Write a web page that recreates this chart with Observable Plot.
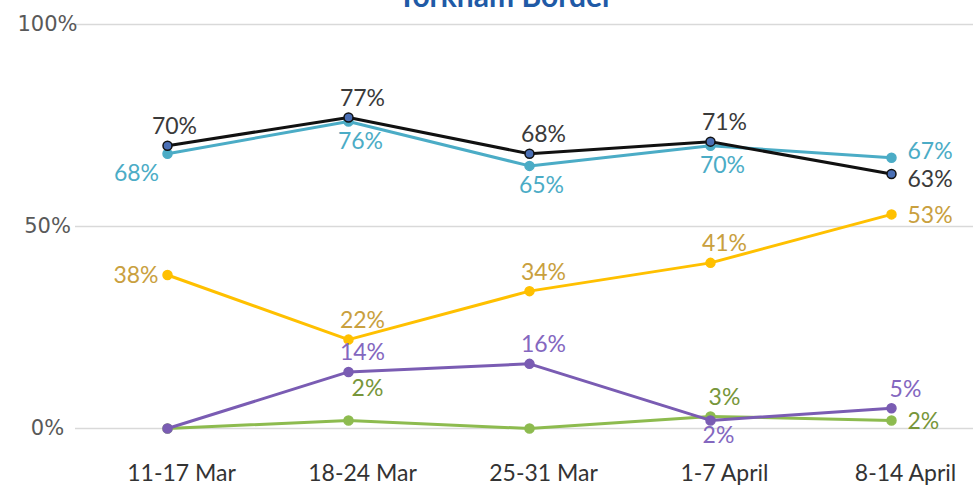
<!DOCTYPE html>
<html><head><meta charset="utf-8">
<script src="https://cdn.jsdelivr.net/npm/d3@7"></script>
<script src="https://cdn.jsdelivr.net/npm/@observablehq/plot@0.6"></script>
<style>
html,body{margin:0;padding:0;background:#fff;overflow:hidden;width:973px;height:486px}
#wrap{position:relative;width:973px;height:486px}
#title{position:absolute;top:-23px;left:398px;font:bold 30px Lato, sans-serif;color:#1f5aa6;white-space:nowrap;z-index:2}
</style></head>
<body><div id="wrap"><div id="title">Torkham Border</div></div>
<script>
const categories = ["11-17 Mar", "18-24 Mar", "25-31 Mar", "1-7 April", "8-14 April"];
const seriesNames = ["black", "blue", "orange", "purple", "green"];
const blackValues  = [70, 77, 68, 71, 63];
const blueValues   = [68, 76, 65, 70, 67];
const orangeValues = [38, 22, 34, 41, 53];
const purpleValues = [0, 14, 16, 2, 5];
const greenValues  = [0, 2, 0, 3, 2];
const yTicks = [0, 50, 100];
// label placement per point ("" = no label)
const blackLabelPos  = ["topNear", "top", "top", "top", "rightDown"];
const blueLabelPos   = ["bottomLeft", "bottom", "bottom", "bottom", "rightUp"];
const orangeLabelPos = ["left", "top", "top", "top", "right"];
const purpleLabelPos = ["", "top", "top", "bottomNear", "top"];
const greenLabelPos  = ["", "topFar", "", "top", "right"];

const lineColors  = {black:"#111111", blue:"#4bacc6", orange:"#ffc000", purple:"#7a5cb3", green:"#8dbb4f"};
const labelColors = {black:"#3a3a3a", blue:"#4bacc6", orange:"#c9a03e", purple:"#8467bf", green:"#77963a"};
const dotFill     = {black:"#4a6fb5", blue:"#4bacc6", orange:"#ffc000", purple:"#7a5cb3", green:"#8dbb4f"};
const dotStroke   = {black:"#111111", blue:"#4bacc6", orange:"#ffc000", purple:"#7a5cb3", green:"#8dbb4f"};

const valuesBy = {black:blackValues, blue:blueValues, orange:orangeValues, purple:purpleValues, green:greenValues};
const posBy = {black:blackLabelPos, blue:blueLabelPos, orange:orangeLabelPos, purple:purpleLabelPos, green:greenLabelPos};

const data = [];
for (const s of seriesNames) categories.forEach((c, i) => data.push({series:s, cat:c, value:valuesBy[s][i], pos:posBy[s][i]}));

const drawOrder = ["green", "purple", "orange", "blue", "black"];
const marks = [
  Plot.ruleY(yTicks, {stroke:"#d9d9d9", strokeWidth:1.5}),
  Plot.axisY({ticks:yTicks, tickFormat:d => d + "%", tickSize:0, tickPadding:28, textAnchor:"middle", fontSize:21, fontFamily:"DejaVu Sans, sans-serif", fill:"#595959", label:null}),
  Plot.axisX({tickSize:0, tickPadding:36, dx:14, fontSize:23, fill:"#333", label:null})
];
for (const s of drawOrder) {
  const d = data.filter(r => r.series === s);
  marks.push(Plot.line(d, {x:"cat", y:"value", stroke:lineColors[s], strokeWidth:3}));
  marks.push(Plot.dot(d, {x:"cat", y:"value", r:4.5, fill:dotFill[s], stroke:dotStroke[s], strokeWidth:1.5}));
}
const offsets = {
  top:{dx:14, dy:-19, anchor:"middle"},
  topNear:{dx:7, dy:-19, anchor:"middle"},
  topFar:{dx:19, dy:-32, anchor:"middle"},
  bottom:{dx:12, dy:20, anchor:"middle"},
  bottomNear:{dx:8, dy:15, anchor:"middle"},
  bottomLeft:{dx:-31, dy:20, anchor:"middle"},
  left:{dx:-9, dy:1, anchor:"end"},
  right:{dx:16, dy:1, anchor:"start"},
  rightUp:{dx:16, dy:-6, anchor:"start"},
  rightDown:{dx:16, dy:6, anchor:"start"}
};
for (const s of drawOrder) {
  for (const p of Object.keys(offsets)) {
    const d = data.filter(r => r.series === s && r.pos === p);
    if (!d.length) continue;
    marks.push(Plot.text(d, {x:"cat", y:"value", text:r => r.value + "%", dx:offsets[p].dx, dy:offsets[p].dy, textAnchor:offsets[p].anchor, fill:labelColors[s], fontSize:23}));
  }
}

const chart = Plot.plot({
  width:973, height:486,
  marginLeft:75, marginRight:0, marginTop:24, marginBottom:58,
  style:{fontFamily:"Lato, sans-serif", background:"transparent", overflow:"visible"},
  x:{type:"point", domain:categories, padding:0, insetLeft:91, insetRight:81},
  y:{domain:[0, 100], ticks:yTicks},
  marks
});
document.getElementById("wrap").appendChild(chart);
</script></body></html>
